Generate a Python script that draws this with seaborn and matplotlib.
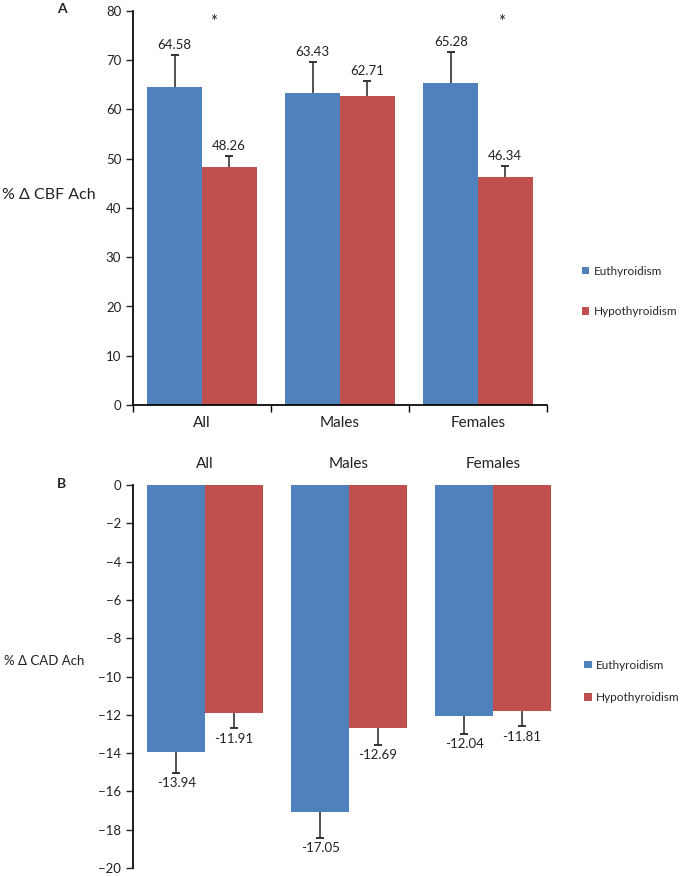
import pandas as pd
import numpy as np
import matplotlib.pyplot as plt
import seaborn as sns

#### data
groups = ['All', 'Males', 'Females']
status = ['Euthyroidism', 'Hypothyroidism']

cbf_eu = [64.58, 63.43, 65.28]
cbf_hypo = [48.26, 62.71, 46.34]
cbf_eu_err = [6.4, 6.2, 6.4]
cbf_hypo_err = [2.2, 3.0, 2.2]

cad_eu = [-13.94, -17.05, -12.04]
cad_hypo = [-11.91, -12.69, -11.81]
cad_eu_err = [1.1, 1.4, 0.96]
cad_hypo_err = [0.8, 0.87, 0.8]

star_groups = ['All', 'Females']

cbf = pd.DataFrame({'group': groups * 2, 'status': [status[0]] * 3 + [status[1]] * 3,
                    'value': cbf_eu + cbf_hypo, 'err': cbf_eu_err + cbf_hypo_err})
cad = pd.DataFrame({'group': groups * 2, 'status': [status[0]] * 3 + [status[1]] * 3,
                    'value': cad_eu + cad_hypo, 'err': cad_eu_err + cad_hypo_err})

sns.set_theme(style='white')
plt.rcParams['font.family'] = ['Lato', 'DejaVu Sans']
pal = {'Euthyroidism': '#4F81BD', 'Hypothyroidism': '#C0504D'}
txt = '#222222'

fig = plt.figure(figsize=(6.83, 8.76), dpi=100)
axA = fig.add_axes([133/683, 1 - 405/876, 414/683, 394/876])
axB = fig.add_axes([133/683, 1 - 868/876, 432/683, 383/876])


def draw(ax, df, width, up):
    sns.barplot(data=df, x='group', y='value', hue='status', order=groups, hue_order=status,
                palette=pal, width=width, errorbar=None, saturation=1, ax=ax, linewidth=0)
    sign = 1 if up else -1
    for cont, st in zip(ax.containers, status):
        sub = df[df.status == st].set_index('group').loc[groups]
        xs = np.array([p.get_x() + p.get_width() / 2 for p in cont.patches])
        vals = sub['value'].values
        ends = vals + sign * sub['err'].values
        # one-sided error bars, cap only at the outer end
        ax.vlines(xs, vals, ends, color='#333333', lw=1.2, zorder=3)
        ax.plot(xs, ends, ls='none', marker='_', ms=6, mew=1.4, color='#333333', zorder=3)
        for x, v, e in zip(xs, vals, ends):
            ax.annotate(f'{v:.2f}', (x, e), xytext=(0, 3 * sign), textcoords='offset points',
                        ha='center', va='bottom' if up else 'top', fontsize=9.5, color=txt)


#### Panel A
draw(axA, cbf, 0.79, True)
axA.set_ylim(0, 80)
axA.set_yticks(range(0, 81, 10))
axA.set_xlim(-0.5, 2.5)
axA.set_xticks([0, 1, 2])
axA.set_xticklabels(groups, fontsize=11, color=txt)
axA.set_xticks([-0.5, 0.5, 1.5, 2.5], minor=True)
axA.tick_params(axis='x', which='major', length=0, pad=8)
axA.tick_params(axis='x', which='minor', length=5, width=1, color='black', direction='out', bottom=True)
axA.tick_params(axis='y', length=5, width=1, direction='out', left=True, labelsize=9.5, labelcolor=txt)
sns.despine(ax=axA)
axA.set_xlabel('')
axA.set_ylabel('')
for g, dx in zip(star_groups, [0.08, 0.17]):
    axA.text(groups.index(g) + dx, 77.8, '*', ha='center', va='center', fontsize=12, color=txt)
axA.legend(loc='center left', bbox_to_anchor=(1.085, 0.288), frameon=False, fontsize=8.5,
           labelspacing=2.5, handlelength=0.6, handleheight=0.6, handletextpad=0.4,
           borderaxespad=0, borderpad=0)

#### Panel B
draw(axB, cad, 0.8, False)
axB.set_ylim(-20, 0)
axB.set_yticks(range(-20, 1, 2))
axB.set_xlim(-0.5, 2.5)
axB.xaxis.tick_top()
axB.set_xticks([0, 1, 2])
axB.set_xticklabels(groups, fontsize=11, color=txt)
axB.tick_params(axis='x', length=0, pad=10)
axB.tick_params(axis='y', length=5, width=1, direction='out', left=True, labelsize=9.5, labelcolor=txt)
for s in ['top', 'right', 'bottom']:
    axB.spines[s].set_visible(False)
axB.set_xlabel('')
axB.set_ylabel('')
axB.legend(loc='center left', bbox_to_anchor=(1.045, 0.487), frameon=False, fontsize=8.5,
           labelspacing=1.8, handlelength=0.6, handleheight=0.6, handletextpad=0.4,
           borderaxespad=0, borderpad=0)

for ax in (axA, axB):
    ax.spines['left'].set_color('black')
    ax.spines['bottom'].set_color('black')

fig.text(2/683, 1 - 195/876, '% Δ CBF Ach', fontsize=11.5, ha='left', va='center', color=txt)
fig.text(4/683, 1 - 661/876, '% Δ CAD Ach', fontsize=9.5, ha='left', va='center', color=txt)
fig.text(62/683, 1 - 9/876, 'A', fontsize=10, fontweight='bold', ha='center', va='center')
fig.text(62/683, 1 - 484/876, 'B', fontsize=10, fontweight='bold', ha='center', va='center')

plt.savefig('out.png', dpi=100)
